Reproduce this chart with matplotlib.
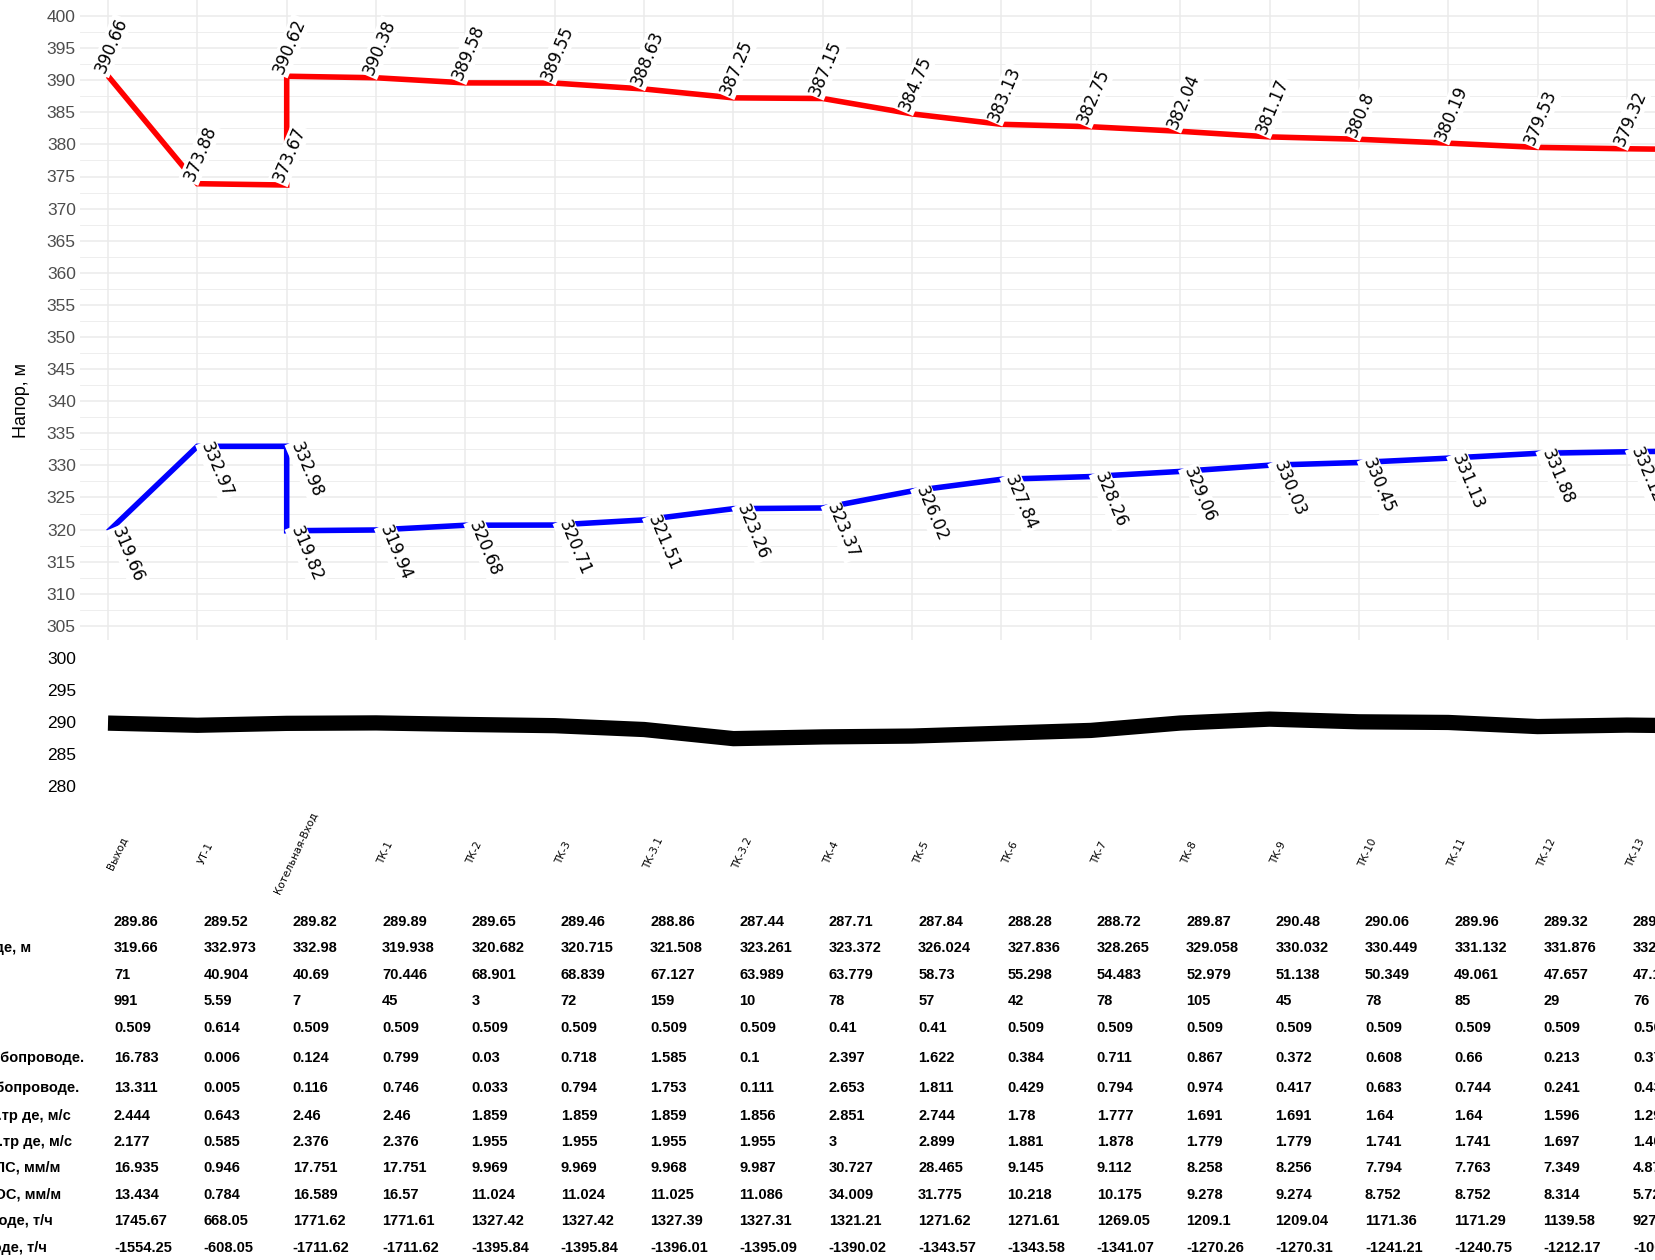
import matplotlib
matplotlib.use("Agg")
import matplotlib.pyplot as plt
from matplotlib.ticker import MultipleLocator
from matplotlib.transforms import blended_transform_factory

# узлы трассы (последний узел уже за краем рисунка)
nodes = ["Выход", "УТ-1", "Котельная-Вход", "ТК-1", "ТК-2", "ТК-3", "ТК-3.1", "ТК-3.2",
         "ТК-4", "ТК-5", "ТК-6", "ТК-7", "ТК-8", "ТК-9", "ТК-10", "ТК-11", "ТК-12",
         "ТК-13", "ТК-14"]

# напор в подающем: на входе в узел и на выходе из узла (в узле 3 - насос)
supply_in = [390.66, 373.88, 373.67, 390.38, 389.58, 389.55, 388.63, 387.25, 387.15,
             384.75, 383.13, 382.75, 382.04, 381.17, 380.8, 380.19, 379.53, 379.32, 379.15]
supply_out = [390.66, 373.88, 390.62, 390.38, 389.58, 389.55, 388.63, 387.25, 387.15,
              384.75, 383.13, 382.75, 382.04, 381.17, 380.8, 380.19, 379.53, 379.32, 379.15]

# напор в обратном
return_in = [319.66, 332.97, 332.98, 319.94, 320.68, 320.71, 321.51, 323.26, 323.37,
             326.02, 327.84, 328.26, 329.06, 330.03, 330.45, 331.13, 331.88, 332.12, 332.3]
return_out = [319.66, 332.97, 319.82, 319.94, 320.68, 320.71, 321.51, 323.26, 323.37,
              326.02, 327.84, 328.26, 329.06, 330.03, 330.45, 331.13, 331.88, 332.12, 332.3]

# отметки земли
ground = [289.86, 289.52, 289.82, 289.89, 289.65, 289.46, 288.86, 287.44, 287.71, 287.84,
          288.28, 288.72, 289.87, 290.48, 290.06, 289.96, 289.32, 289.55, 289.4]

# таблица под графиком
row_names = [
    "Отметка земли, м",
    "Напор в обратном трубопроводе, м",
    "Располагаемый напор, м",
    "Длина участка, м",
    "Диаметр трубопровода, м",
    "Потери напора в подающем трубопроводе.",
    "Потери напора в обратном трубопроводе.",
    "Скорость в под.тр де, м/с",
    "Скорость в обр.тр де, м/с",
    "Удельные потери ПС, мм/м",
    "Удельные потери ОС, мм/м",
    "Расход в подающем трубопроводе, т/ч",
    "Расход в обратном трубопроводе, т/ч",
]
ret_head = [319.66, 332.973, 332.98, 319.938, 320.682, 320.715, 321.508, 323.261, 323.372,
            326.024, 327.836, 328.265, 329.058, 330.032, 330.449, 331.132, 331.876, 332.124]
avail_head = [71, 40.904, 40.69, 70.446, 68.901, 68.839, 67.127, 63.989, 63.779, 58.73,
              55.298, 54.483, 52.979, 51.138, 50.349, 49.061, 47.657, 47.196]
length = [991, 5.59, 7, 45, 3, 72, 159, 10, 78, 57, 42, 78, 105, 45, 78, 85, 29, 76]
diam = [0.509, 0.614, 0.509, 0.509, 0.509, 0.509, 0.509, 0.509, 0.41, 0.41, 0.509, 0.509,
        0.509, 0.509, 0.509, 0.509, 0.509, 0.509]
loss_sup = [16.783, 0.006, 0.124, 0.799, 0.03, 0.718, 1.585, 0.1, 2.397, 1.622, 0.384,
            0.711, 0.867, 0.372, 0.608, 0.66, 0.213, 0.37]
loss_ret = [13.311, 0.005, 0.116, 0.746, 0.033, 0.794, 1.753, 0.111, 2.653, 1.811, 0.429,
            0.794, 0.974, 0.417, 0.683, 0.744, 0.241, 0.435]
vel_sup = [2.444, 0.643, 2.46, 2.46, 1.859, 1.859, 1.859, 1.856, 2.851, 2.744, 1.78, 1.777,
           1.691, 1.691, 1.64, 1.64, 1.596, 1.298]
vel_ret = [2.177, 0.585, 2.376, 2.376, 1.955, 1.955, 1.955, 1.955, 3, 2.899, 1.881, 1.878,
           1.779, 1.779, 1.741, 1.741, 1.697, 1.403]
r_sup = [16.935, 0.946, 17.751, 17.751, 9.969, 9.969, 9.968, 9.987, 30.727, 28.465, 9.145,
         9.112, 8.258, 8.256, 7.794, 7.763, 7.349, 4.87]
r_ret = [13.434, 0.784, 16.589, 16.57, 11.024, 11.024, 11.025, 11.086, 34.009, 31.775,
         10.218, 10.175, 9.278, 9.274, 8.752, 8.752, 8.314, 5.72]
flow_sup = [1745.67, 668.05, 1771.62, 1771.61, 1327.42, 1327.42, 1327.39, 1327.31, 1321.21,
            1271.62, 1271.61, 1269.05, 1209.1, 1209.04, 1171.36, 1171.29, 1139.58, 927.45]
flow_ret = [-1554.25, -608.05, -1711.62, -1711.62, -1395.84, -1395.84, -1396.01, -1395.09,
            -1390.02, -1343.57, -1343.58, -1341.07, -1270.26, -1270.31, -1241.21, -1240.75,
            -1212.17, -1002.12]
table = [ground[:18], ret_head, avail_head, length, diam, loss_sup, loss_ret,
         vel_sup, vel_ret, r_sup, r_ret, flow_sup, flow_ret]

W, H = 1656, 1260
fig = plt.figure(figsize=(W / 100, H / 100), dpi=100)
fig.patch.set_facecolor("white")

def fx(px):
    return px / W

def fy(py):
    return 1 - py / H

# положение узлов в пикселях: первый 108, шаг 89.35
step = 89.35
x_left = -(108 - 80) / step
x_right = (W - 108) / step

ax = fig.add_axes([fx(80), fy(640), 1 - fx(80), 640 / H])
ax2 = fig.add_axes([fx(80), fy(800), 1 - fx(80), 160 / H])

ax.set_yticks(range(305, 401, 5))
ax.yaxis.set_minor_locator(MultipleLocator(2.5))
ax.set_xticks(range(len(nodes)))
ax.grid(which="major", color="#ebebeb", lw=1.1)
ax.grid(which="minor", axis="y", color="#ebebeb", lw=0.6)
ax.set_axisbelow(True)
ax.tick_params(axis="x", labelbottom=False, length=0)
ax.tick_params(axis="y", which="both", length=0, pad=3, labelsize=12.5, labelcolor="#4d4d4d")

ax2.set_yticks(range(280, 301, 5))
ax2.set_xticks([])
ax2.tick_params(axis="y", length=0, pad=3, labelsize=12.5, labelcolor="black")

# пределы после тиков, иначе set_xticks их расширит
ppu = 6.42  # пикселей на метр
ax.set_xlim(x_left, x_right)
ax.set_ylim(400 - (640 - 16) / ppu, 400 + 16 / ppu)
ax2.set_xlim(x_left, x_right)
ax2.set_ylim(400 - (800 - 16) / ppu, 400 - (640 - 16) / ppu)

for a in (ax, ax2):
    for s in a.spines.values():
        s.set_visible(False)
    for lab in a.get_yticklabels():
        lab.set_family("Liberation Sans")


def path(v_in, v_out):
    xs, ys = [], []
    for i, (a, b) in enumerate(zip(v_in, v_out)):
        xs += [i, i]
        ys += [a, b]
    return xs, ys


xs, ys = path(supply_in, supply_out)
ax.plot(xs, ys, color="#ff0000", lw=4, solid_capstyle="butt", solid_joinstyle="miter", zorder=3)
xs, ys = path(return_in, return_out)
ax.plot(xs, ys, color="#0000ff", lw=4, solid_capstyle="butt", solid_joinstyle="miter", zorder=3)
ax2.plot(range(len(ground)), ground, color="black", lw=11, solid_capstyle="butt")

box = dict(facecolor="white", edgecolor="none", pad=1.2)
for i in range(len(nodes)):
    vals = [supply_in[i]] if supply_in[i] == supply_out[i] else [supply_in[i], supply_out[i]]
    for v in vals:
        ax.text(i, v, f"{v:g}", rotation=67, rotation_mode="anchor", ha="left", va="bottom",
                fontsize=12, bbox=box, zorder=4, clip_on=True)
    vals = [return_in[i]] if return_in[i] == return_out[i] else [return_in[i], return_out[i]]
    for v in vals:
        ax.text(i, v, f"{v:g}", rotation=-67, rotation_mode="anchor", ha="left", va="bottom",
                fontsize=12, bbox=box, zorder=4, clip_on=True)

trans = blended_transform_factory(ax.transData, fig.transFigure)

# подписи узлов
for i, name in enumerate(nodes):
    ax.text(i + 9 / step, fy(853), name, transform=trans, rotation=65, ha="center",
            va="center", fontsize=7.5, clip_on=False)

# таблица
row_y = [921.7, 948.3, 975, 1000.7, 1027.7, 1058.3, 1087.7, 1115.7, 1142.3, 1168.3, 1195,
         1221, 1248.3]
name_end = [-8, 31, -8, -8, -8, 84, 79, 71, 72, 60, 61, 53, 47]
for r, vals in enumerate(table):
    fig.text(fx(name_end[r]), fy(row_y[r]), row_names[r], ha="right", va="center",
             fontsize=10.5, family="Liberation Sans", weight="bold")
    for c, v in enumerate(vals):
        ax.text(c + 6 / step, fy(row_y[r]), f"{v:g}", transform=trans, ha="left",
                va="center", fontsize=10.5, family="Liberation Sans", weight="bold",
                clip_on=False)

fig.text(fx(22), fy(400), "Напор, м", rotation=90, ha="center", va="center",
         fontsize=13, family="Liberation Sans")

fig.savefig("out.png", dpi=100)
